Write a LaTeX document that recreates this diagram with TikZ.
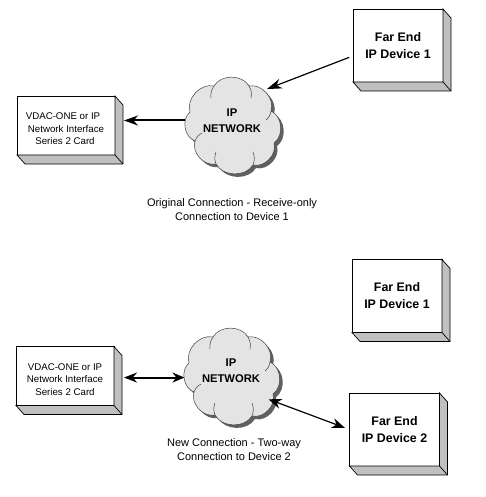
\documentclass[tikz,border=0pt]{standalone}
\usepackage{fontspec}
\setmainfont{Liberation Sans}
\usetikzlibrary{arrows.meta, positioning, calc}
\definecolor{cloudfill}{RGB}{228, 228, 228}
\definecolor{cloudshade}{RGB}{96, 96, 96}
\definecolor{boxshade}{RGB}{192, 192, 192}
\tikzset{
  devbig/.style={draw, fill=white, line width=0.9pt, minimum width=90pt, minimum height=73pt, inner sep=0pt, outer sep=0pt, align=center, font=\bfseries\fontsize{12.4}{17}\selectfont},
  devsmall/.style={draw, fill=white, line width=0.9pt, minimum width=98pt, minimum height=59pt, inner sep=0pt, outer sep=0pt, align=center, font=\fontsize{9.7}{12.5}\selectfont},
  netlabel/.style={circle, minimum size=94pt, inner sep=0pt, outer sep=0pt, align=center, font=\bfseries\fontsize{11.2}{16}\selectfont},
  caption/.style={align=center, font=\fontsize{11}{14}\selectfont},
  link/.style={line width=1.2pt},
  linkthick/.style={line width=2pt},
  ipcloud/.pic={
    \path[fill=cloudshade] (-15,-36) to[bend left=60] (20,-36) to[bend left=60] (42,-11)
      to[bend left=60] (45,21) to[bend left=60] (24,43) to[bend left=60] (-13,42)
      to[bend left=60] (-34,19) to[bend left=60] (-39,-10) to[bend left=60] (-15,-36);
    \draw[fill=cloudfill, line width=0.5pt, draw=black!75] (-18,-39) to[bend left=60] (17,-39) to[bend left=60] (39,-14)
      to[bend left=60] (42,18) to[bend left=60] (21,40) to[bend left=60] (-16,39)
      to[bend left=60] (-37,16) to[bend left=60] (-42,-13) to[bend left=60] (-18,-39);
    \draw[line width=0.5pt, draw=black!75] (-18,-39) to[bend right=20] (-21,-27)
      (17,-39) to[bend left=20] (19,-27)
      (39,-14) to[bend left=20] (34,-5)
      (21,40) to[bend right=20] (21,27)
      (-16,39) to[bend left=20] (-16,27)
      (-37,16) to[bend left=20] (-30,8);
  }
}

\begin{document}
\begin{tikzpicture}[x=1pt, y=-1pt]
  \useasboundingbox (0,0) rectangle (485,497);

  % upper connection
  \pic at (232,125) {ipcloud};
  \node[netlabel] (net1) at (232,120.5) {IP\\NETWORK};
  \node[devsmall] (iface1) at (66,125.5) {\rule{0pt}{14pt}\hspace*{-6pt}VDAC-ONE or IP\\Network Interface\\\hspace*{-2pt}Series 2 Card};
  \node[devbig] (far1) at (398,45.5) {Far End\\IP Device 1};
  \node[caption] (note1) at (232,210) {Original Connection - Receive-only\\Connection to Device 1};

  % lower connection
  \pic at (231,376) {ipcloud};
  \node[netlabel] (net2) at (231,371) {IP\\NETWORK};
  \node[devsmall] (iface2) at (65,376) {\rule{0pt}{14pt}VDAC-ONE or IP\\Network Interface\\Series 2 Card};
  \node[devbig] (far3) at (397,296) {Far End\\IP Device 1};
  \node[devbig] (far2) at (394.5,429.5) {Far End\\IP Device 2};
  \node[caption] (note2) at (234,450) {New Connection - Two-way\\Connection to Device 2};

  % raised sides of the boxes
  \foreach \n in {far1, far2, far3, iface1, iface2} {
    \draw[fill=boxshade, line width=0.7pt] (\n.north east) -- ++(8,9) -- ($(\n.south east)+(8,9)$) -- ($(\n.south west)+(8,9)$) -- (\n.south west) -- (\n.south east) -- cycle;
    \draw[line width=0.7pt] (\n.south east) -- ++(8,9);
  }

  \draw[linkthick, -{Stealth[length=14pt, width=10pt]}, shorten >=9pt] (net1.west) -- (net1.west -| iface1.east);
  \draw[link, -{Stealth[length=15pt, width=10pt]}, shorten <=4pt] (far1.193) -- (net1.42);
  \draw[linkthick, {Stealth[length=13pt, width=10pt]}-{Stealth[length=12pt, width=10pt]}, shorten <=10pt] (net2.188 -| iface2.east) -- (net2.188);
  \draw[link, {Stealth[length=13pt, width=10pt]}-{Stealth[length=13pt, width=10pt]}, shorten >=5pt] (net2.-37) -- (far2.west);
\end{tikzpicture}
\end{document}
